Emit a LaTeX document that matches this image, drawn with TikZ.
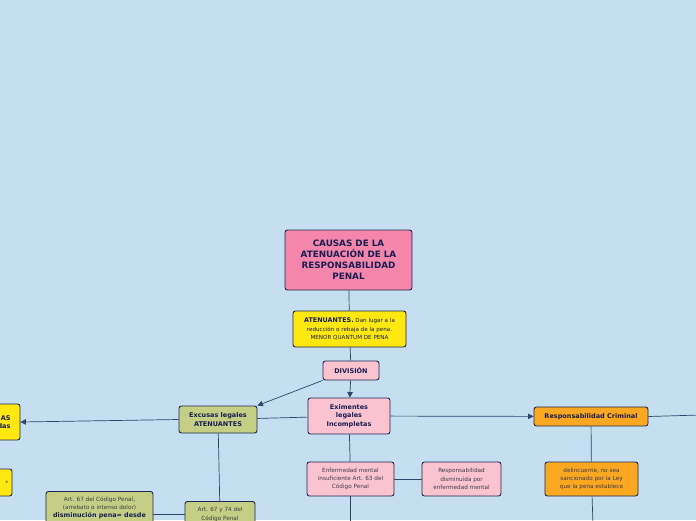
\documentclass[tikz,border=0pt]{standalone}
\usepackage{fontspec}
\setmainfont{DejaVu Sans}
\usepackage{xcolor}
\usetikzlibrary{positioning,arrows.meta}

\definecolor{bgblue}{RGB}{197,222,240}
\definecolor{titlepink}{RGB}{244,134,172}
\definecolor{softpink}{RGB}{249,196,208}
\definecolor{sunyellow}{RGB}{255,232,18}
\definecolor{khaki}{RGB}{196,206,133}
\definecolor{amber}{RGB}{250,168,34}
\definecolor{boxline}{RGB}{30,40,80}
\definecolor{inknavy}{RGB}{25,30,80}
\definecolor{inkgray}{RGB}{60,60,72}
\definecolor{linkcol}{RGB}{45,68,108}

\begin{document}
\begin{tikzpicture}[
  x=1pt, y=-1pt,
  font=\fontsize{5.7}{8.3}\selectfont,
  box/.style={draw=boxline, line width=0.9pt, rounded corners=2.5pt, align=center, inner sep=2pt, text=inkgray},
  headbox/.style={box, text=inknavy, font=\bfseries\fontsize{6.5}{8.5}\selectfont},
  lnk/.style={draw=linkcol, line width=0.7pt},
  arr/.style={lnk, -{Triangle[length=5.5pt,width=5.5pt]}, color=linkcol}
]
  \useasboundingbox (0,0) rectangle (696,520);
  \clip (0,0) rectangle (696,520);
  \fill[bgblue] (0,0) rectangle (696,520);

  % main branch
  \node[box, fill=titlepink, text=inknavy, minimum width=127, minimum height=60,
        font=\bfseries\fontsize{8.8}{11}\selectfont] (causas) at (348.5,260)
        {CAUSAS DE LA\\ATENUACIÓN DE LA\\RESPONSABILIDAD\\PENAL};
  \node[box, fill=sunyellow, text=inknavy, minimum width=113, minimum height=36,
        font=\fontsize{5.6}{8.5}\selectfont] (aten) at (349.5,329)
        {{\bfseries\fontsize{6.4}{8.5}\selectfont ATENUANTES.} Dan lugar a la\\reducción o rebaja de la pena.\\MENOR QUANTUM DE PENA};
  \node[headbox, fill=softpink, minimum width=56, minimum height=19] (division) at (351,370.5) {DIVISIÓN};
  \node[headbox, fill=softpink, minimum width=82, minimum height=36] (eximentes) at (349,416)
        {Eximentes\\legales\\Incompletas};
  \node[headbox, fill=khaki, minimum width=78, minimum height=27] (excusas) at (218,419.5)
        {Excusas legales\\ATENUANTES};

  % left side (cut off)
  \node[headbox, fill=sunyellow, minimum width=80, minimum height=36, text width=61, align=right] (leftA) at (-20,422) {AS\\das};
  \node[box, fill=sunyellow, minimum width=60, minimum height=27, text width=52, align=right,
        font=\fontsize{4}{5}\selectfont] (leftB) at (-18,482.5) {e};

  % right branch
  \node[headbox, fill=amber, minimum width=114, minimum height=19] (respcrim) at (591,416.5) {Responsabilidad Criminal};
  \node[box, fill=amber, minimum width=93, minimum height=34] (delinc) at (591.5,479)
        {delincuente, no sea\\sancionado por la Ley\\que la pena establece};
  \coordinate (rightout) at (700,415);
  \coordinate (delincdown) at (593,525);

  % eximentes branch
  \node[box, fill=softpink, minimum width=87, minimum height=34] (enferm) at (350.5,479)
        {Enfermedad mental\\insuficiente Art. 63 del\\Código Penal};
  \node[box, fill=softpink, minimum width=79, minimum height=34] (respdism) at (461.5,479)
        {Responsabilidad\\disminuida por\\enfermedad mental};
  \coordinate (enfermdown) at (350.5,525);

  % excusas branch
  \node[box, fill=khaki, anchor=north, minimum width=70, inner ysep=6pt] (art6774) at (220,501)
        {Art. 67 y 74 del\\Código Penal};
  \node[box, fill=khaki, anchor=north, minimum width=107, inner ysep=5pt] (art67) at (99.5,491)
        {Art. 67 del Código Penal,\\(arrebato o intenso dolor)\\{\bfseries\fontsize{6.4}{9}\selectfont\color{inknavy} disminución pena= desde}};

  \draw[lnk] (causas) -- (aten);
  \draw[lnk] (aten) -- (division);
  \draw[arr] (division) -- (eximentes);
  \draw[arr] (division.south west) -- (excusas.north east);
  \draw[lnk] (eximentes) -- (excusas);
  \draw[arr] (excusas.west) -- (leftA.east);
  \draw[arr] (eximentes) -- (respcrim);
  \draw[lnk] (respcrim.east) -- (rightout);
  \draw[lnk] (respcrim) -- (delinc);
  \draw[lnk] (delinc) -- (delincdown);
  \draw[lnk] (eximentes) -- (enferm);
  \draw[lnk] (enferm) -- (respdism);
  \draw[lnk] (enferm) -- (enfermdown);
  \draw[lnk] (excusas) -- (art6774);
  \draw[lnk] (art67.east |- art6774.west) -- (art6774.west);
\end{tikzpicture}
\end{document}
